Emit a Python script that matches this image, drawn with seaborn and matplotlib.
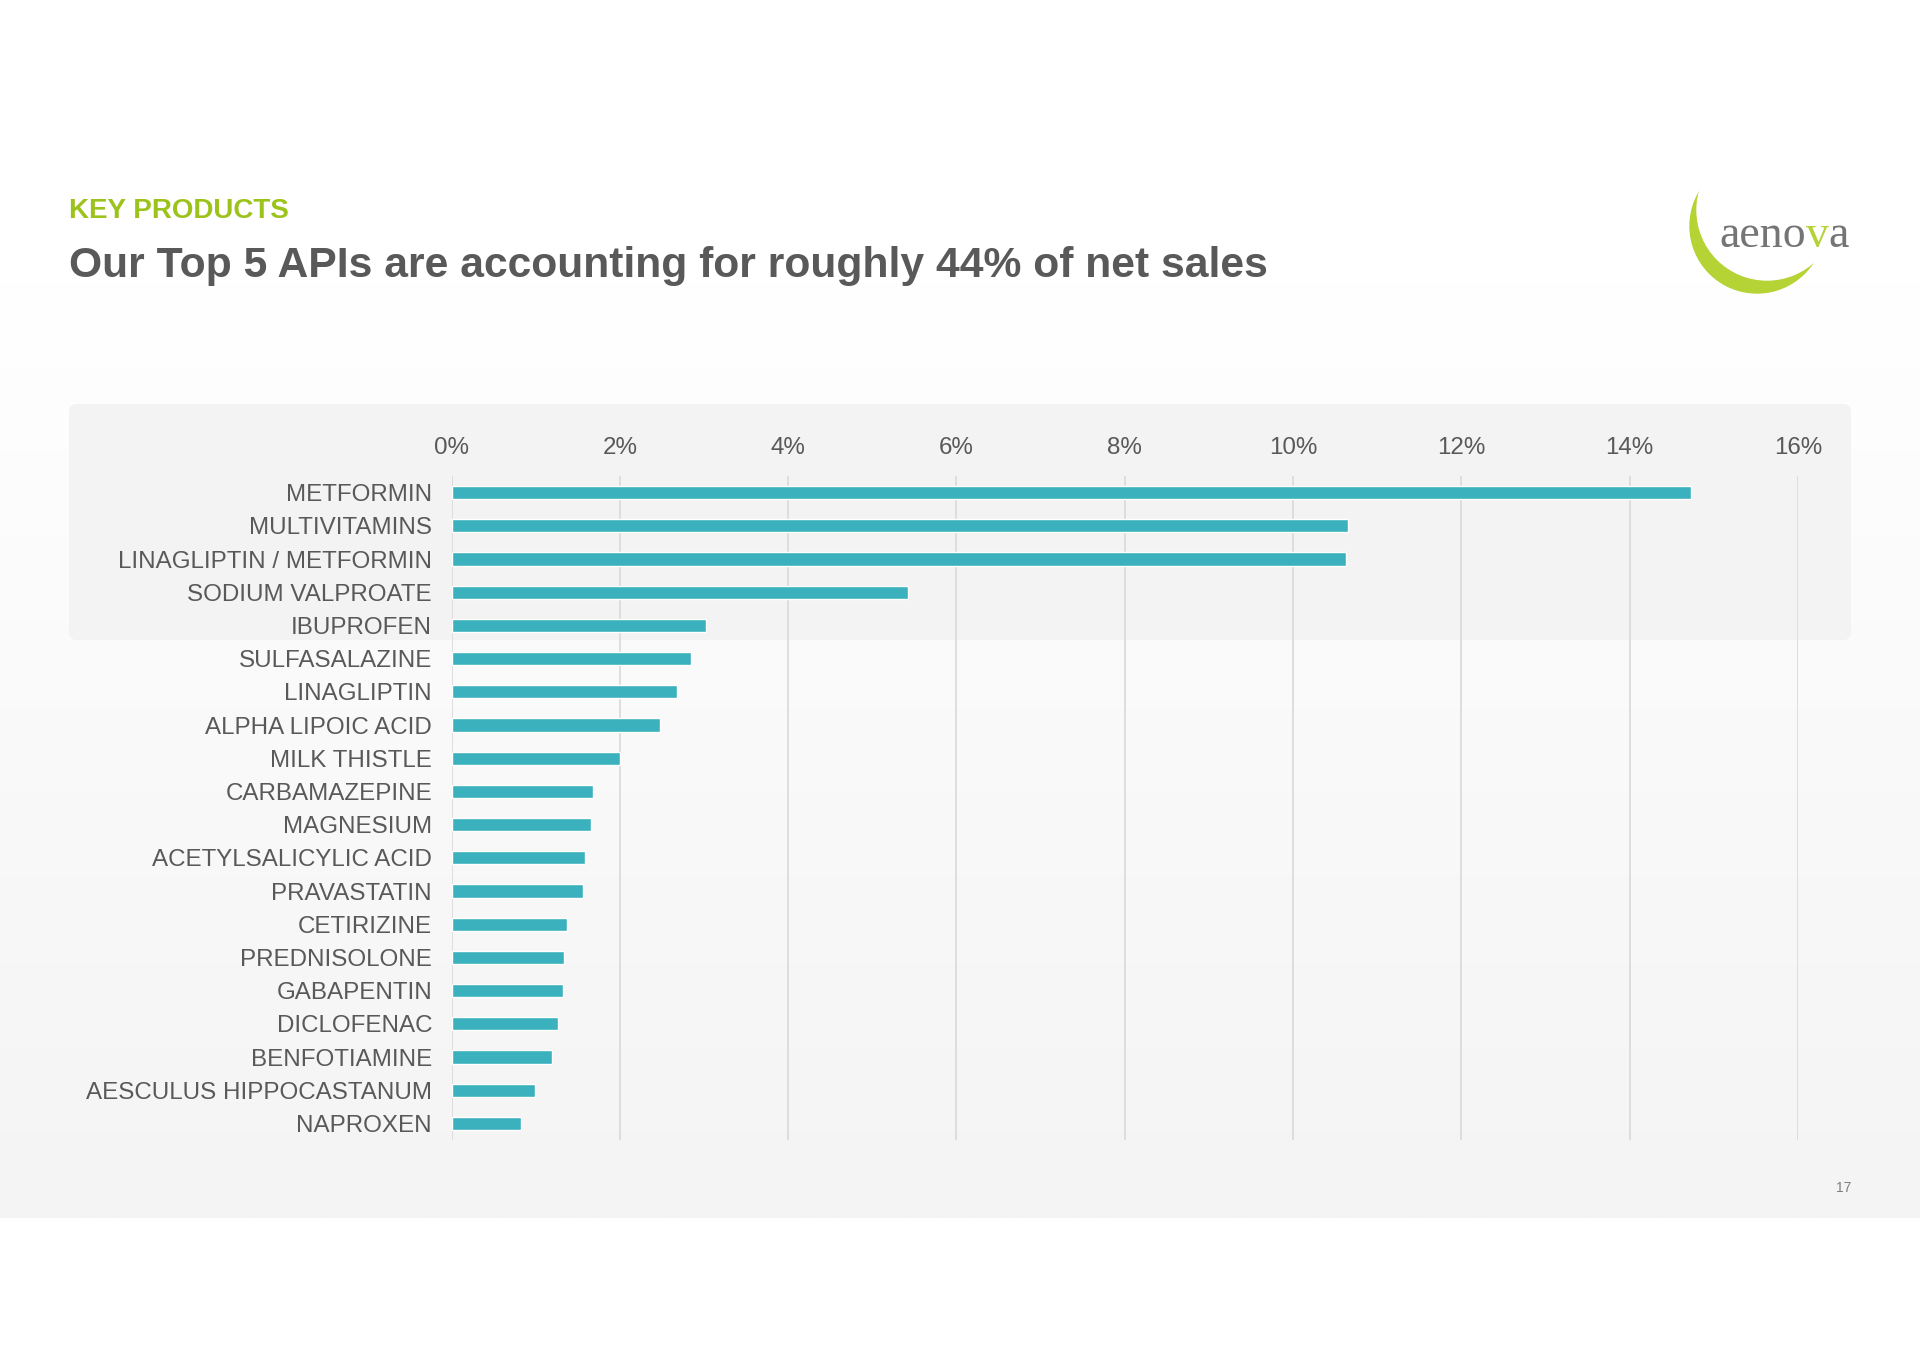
import numpy as np
import pandas as pd
import matplotlib.pyplot as plt
import seaborn as sns
from matplotlib.patches import FancyBboxPatch, Circle
from matplotlib.ticker import PercentFormatter

# Data (share of net sales, %)
products = ['METFORMIN', 'MULTIVITAMINS', 'LINAGLIPTIN / METFORMIN', 'SODIUM VALPROATE',
            'IBUPROFEN', 'SULFASALAZINE', 'LINAGLIPTIN', 'ALPHA LIPOIC ACID', 'MILK THISTLE',
            'CARBAMAZEPINE', 'MAGNESIUM', 'ACETYLSALICYLIC ACID', 'PRAVASTATIN', 'CETIRIZINE',
            'PREDNISOLONE', 'GABAPENTIN', 'DICLOFENAC', 'BENFOTIAMINE',
            'AESCULUS HIPPOCASTANUM', 'NAPROXEN']
share = [14.73, 10.65, 10.63, 5.43, 3.03, 2.85, 2.68, 2.48, 2.00, 1.68,
         1.66, 1.59, 1.56, 1.37, 1.34, 1.32, 1.27, 1.19, 0.99, 0.82]
ticks = [0, 2, 4, 6, 8, 10, 12, 14, 16]

df = pd.DataFrame({'product': products, 'share': share})

sns.set_theme(style='white')
plt.rcParams['font.family'] = ['Liberation Sans', 'DejaVu Sans']

W, H = 1920, 1358
fig = plt.figure(figsize=(19.2, 13.58), dpi=100)
fig.patch.set_facecolor('white')

# slide background (pixel coordinates)
bg = fig.add_axes([0, 0, 1, 1], zorder=-10)
bg.set_axis_off()
g = np.linspace(255, 244, 300) / 255
img = np.repeat(g[:, None, None], 3, axis=2)
bg.imshow(img, extent=[0, W, 1218, 281], aspect='auto', interpolation='bilinear')
bg.set_xlim(0, W)
bg.set_ylim(H, 0)
bg.add_patch(FancyBboxPatch((69, 404), 1782, 236, boxstyle='round,pad=0,rounding_size=8',
                            fc='#f3f3f3', ec='none'))

# logo
bg.add_patch(Circle((1757, 226), 67, color='#b5d334', zorder=2))
bg.add_patch(Circle((1767, 210), 70, color='white', zorder=3))
r = fig.canvas.get_renderer()
x0 = 1719
parts = [('aeno', '#757575'), ('v', '#b5d334'), ('a', '#757575')]
for s, c in parts:
    t = bg.text(x0, 247, s, fontsize=33, family='Liberation Serif', color=c,
                va='baseline', ha='left', zorder=5)
    bb = t.get_window_extent(renderer=r)
    x0 += bb.width

# titles
fig.text(69 / W, 1 - 218 / H, 'KEY PRODUCTS', fontsize=20, weight='bold',
         color='#9cc31c', va='baseline')
fig.text(69 / W, 1 - 277 / H, 'Our Top 5 APIs are accounting for roughly 44% of net sales',
         fontsize=30.7, weight='bold', color='#595959', va='baseline')
fig.text(1851 / W, 1 - 1188 / H, '17', fontsize=10, color='#7f7f7f', ha='right', va='center')

# chart
ax = fig.add_axes([451.5 / W, 1 - 1140 / H, (1798 - 451.5) / W, (1140 - 476) / H])
ax.set_facecolor('none')
sns.barplot(data=df, x='share', y='product', color='#3cb1be', saturation=1,
            width=0.4, ax=ax)
ax.set_xlim(0, 16)
ax.set_xticks(ticks)
ax.xaxis.set_major_formatter(PercentFormatter(decimals=0))
ax.xaxis.tick_top()
ax.grid(axis='x', color='#d9d9d9', lw=1.2)
ax.grid(axis='y', visible=False)
ax.set_axisbelow(True)
for sp in ax.spines.values():
    sp.set_visible(False)
ax.set_xlabel('')
ax.set_ylabel('')
ax.tick_params(axis='x', length=0, labelsize=17.4, colors='#595959', pad=12)
ax.tick_params(axis='y', length=0, labelsize=17.4, colors='#595959', pad=14)

fig.savefig('out.png', dpi=100)
